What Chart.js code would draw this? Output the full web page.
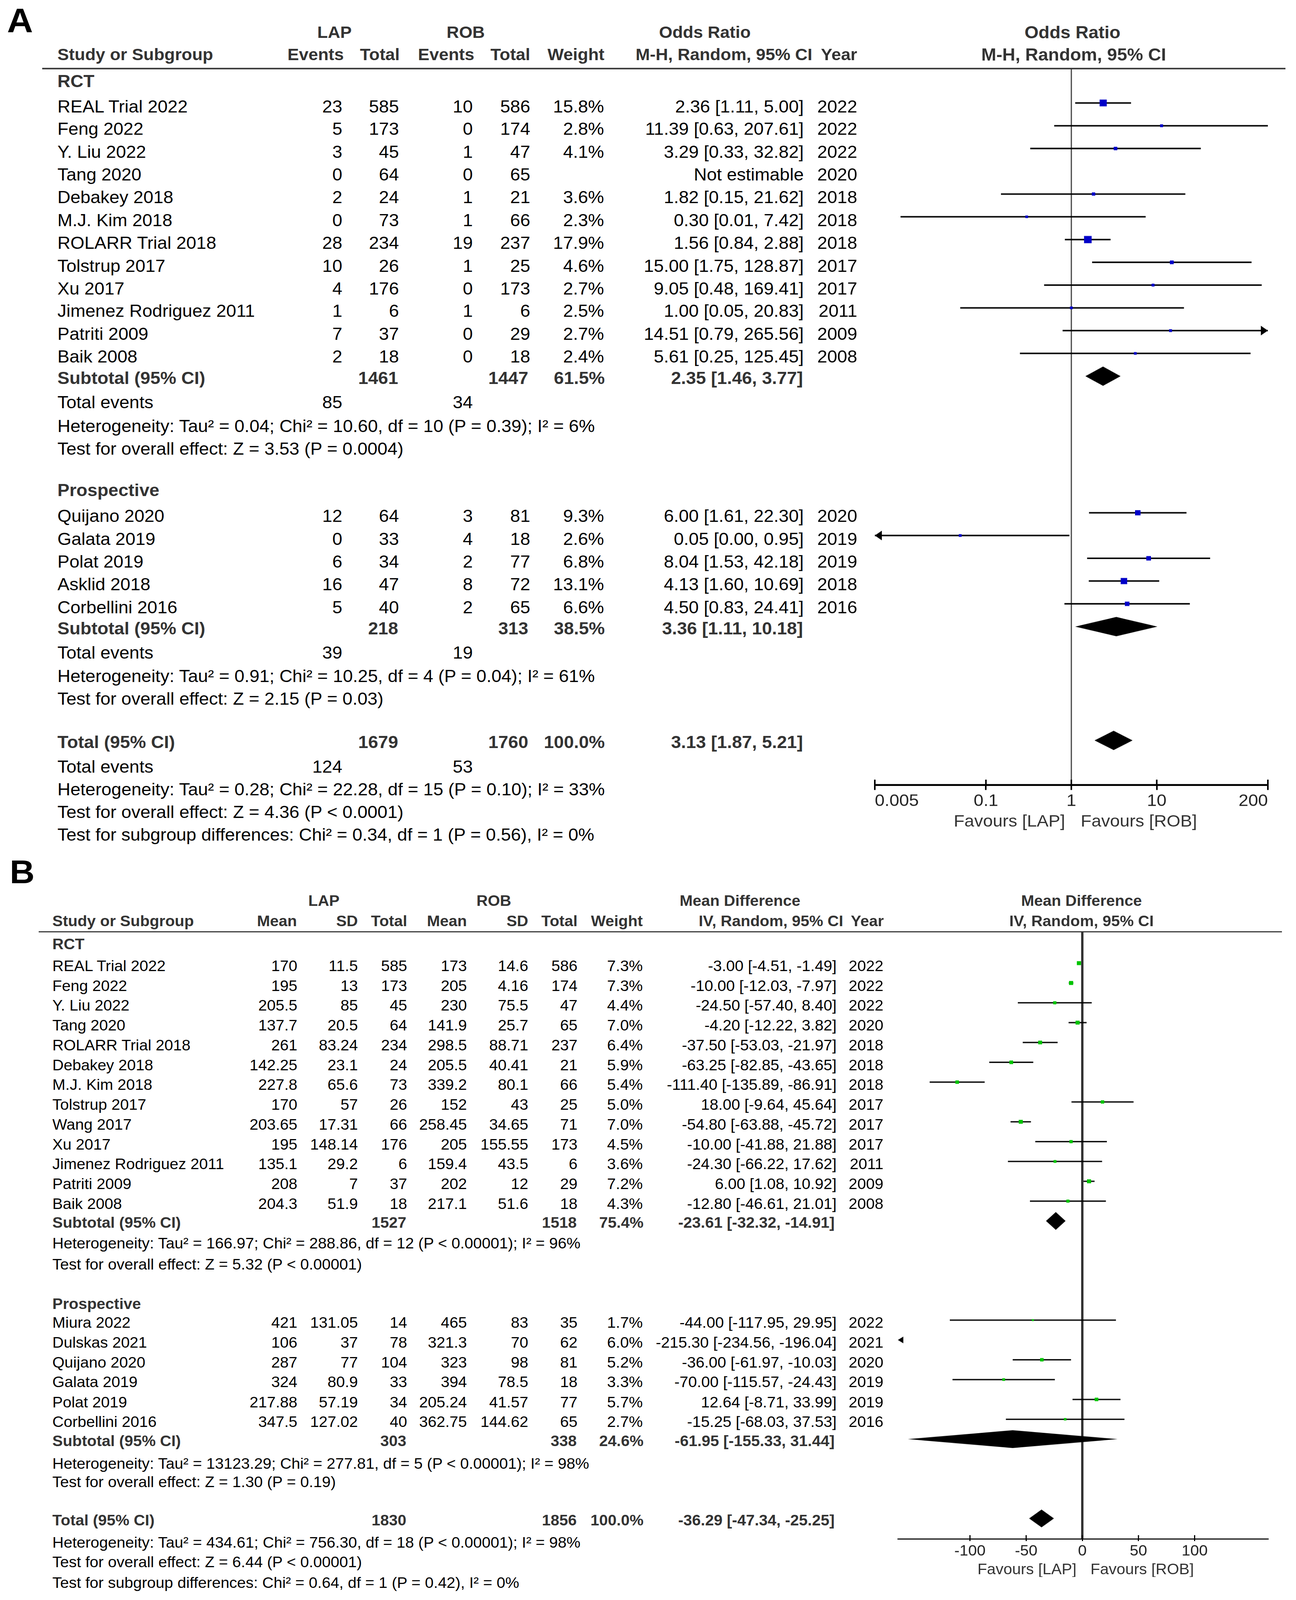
<!DOCTYPE html>
<html><head><meta charset="utf-8">
<script src="https://cdn.jsdelivr.net/npm/chart.js@4.4.0/dist/chart.umd.min.js"></script>
<style>
html,body{margin:0;padding:0;background:#fff;overflow:hidden;}
#page{position:relative;width:3317px;height:4316px;background:#fff;overflow:hidden;font-family:"Liberation Sans",Arial,sans-serif;transform-origin:0 0;}
.t{position:absolute;white-space:nowrap;line-height:1;color:#000;}
canvas{position:absolute;}
.hl{position:absolute;background:#333;}
</style></head><body><div id="page"></div>
<script>
// ================= Panel A : Odds Ratio =================
const A_STUDY = ["REAL Trial 2022","Feng 2022","Y. Liu 2022","Tang 2020","Debakey 2018","M.J. Kim 2018","ROLARR Trial 2018","Tolstrup 2017","Xu 2017","Jimenez Rodriguez 2011","Patriti 2009","Baik 2008","Quijano 2020","Galata 2019","Polat 2019","Asklid 2018","Corbellini 2016"];
const A_ROW = [0,1,2,3,4,5,6,7,8,9,10,11,18,19,20,21,22];
const A_LAP_EVENTS = [23,5,3,0,2,0,28,10,4,1,7,2,12,0,6,16,5];
const A_LAP_TOTAL = [585,173,45,64,24,73,234,26,176,6,37,18,64,33,34,47,40];
const A_ROB_EVENTS = [10,0,1,0,1,1,19,1,0,1,0,0,3,4,2,8,2];
const A_ROB_TOTAL = [586,174,47,65,21,66,237,25,173,6,29,18,81,18,77,72,65];
const A_WEIGHT = [15.8,2.8,4.1,null,3.6,2.3,17.9,4.6,2.7,2.5,2.7,2.4,9.3,2.6,6.8,13.1,6.6];
const A_OR = [2.36,11.39,3.29,null,1.82,0.30,1.56,15.00,9.05,1.00,14.51,5.61,6.00,0.05,8.04,4.13,4.50];
const A_LO = [1.11,0.63,0.33,null,0.15,0.01,0.84,1.75,0.48,0.05,0.79,0.25,1.61,0.00,1.53,1.60,0.83];
const A_HI = [5.00,207.61,32.82,null,21.62,7.42,2.88,128.87,169.41,20.83,265.56,125.45,22.30,0.95,42.18,10.69,24.41];
const A_YEAR = [2022,2022,2022,2020,2018,2018,2018,2017,2017,2011,2009,2008,2020,2019,2019,2018,2016];

const A_POOL_LABEL = ["Subtotal (95% CI)","Subtotal (95% CI)","Total (95% CI)"];
const A_POOL_ROW = [12,23,28];
const A_POOL_LAP_TOTAL = [1461,218,1679];
const A_POOL_ROB_TOTAL = [1447,313,1760];
const A_POOL_WEIGHT = [61.5,38.5,100.0];
const A_POOL_OR = [2.35,3.36,3.13];
const A_POOL_LO = [1.46,1.11,1.87];
const A_POOL_HI = [3.77,10.18,5.21];

const A_EVENTS_ROW = [13,24,29];
const A_EVENTS_LAP = [85,39,124];
const A_EVENTS_ROB = [34,19,53];

const A_GROUP_LABEL = ["RCT","Prospective"];
const A_GROUP_ROW = [-1.11,16.86];

const A_NOTE = [
 "Heterogeneity: Tau² = 0.04; Chi² = 10.60, df = 10 (P = 0.39); I² = 6%",
 "Test for overall effect: Z = 3.53 (P = 0.0004)",
 "Heterogeneity: Tau² = 0.91; Chi² = 10.25, df = 4 (P = 0.04); I² = 61%",
 "Test for overall effect: Z = 2.15 (P = 0.03)",
 "Heterogeneity: Tau² = 0.28; Chi² = 22.28, df = 15 (P = 0.10); I² = 33%",
 "Test for overall effect: Z = 4.36 (P < 0.0001)",
 "Test for subgroup differences: Chi² = 0.34, df = 1 (P = 0.56), I² = 0%"];
const A_NOTE_ROW = [14.04,15.05,25.03,26.03,30,31,32];

const A_TICKS = [0.005,0.1,1,10,200];
const A_TICK_LABELS = ["0.005","0.1","1","10","200"];

// ================= Panel B : Mean Difference =================
const B_STUDY = ["REAL Trial 2022","Feng 2022","Y. Liu 2022","Tang 2020","ROLARR Trial 2018","Debakey 2018","M.J. Kim 2018","Tolstrup 2017","Wang 2017","Xu 2017","Jimenez Rodriguez 2011","Patriti 2009","Baik 2008","Miura 2022","Dulskas 2021","Quijano 2020","Galata 2019","Polat 2019","Corbellini 2016"];
const B_ROW = [0,1,2,3,4,5,6,7,8,9,10,11,12,18,19,20,21,22,23];
const B_LAP_MEAN = [170,195,205.5,137.7,261,142.25,227.8,170,203.65,195,135.1,208,204.3,421,106,287,324,217.88,347.5];
const B_LAP_SD = [11.5,13,85,20.5,83.24,23.1,65.6,57,17.31,148.14,29.2,7,51.9,131.05,37,77,80.9,57.19,127.02];
const B_LAP_TOTAL = [585,173,45,64,234,24,73,26,66,176,6,37,18,14,78,104,33,34,40];
const B_ROB_MEAN = [173,205,230,141.9,298.5,205.5,339.2,152,258.45,205,159.4,202,217.1,465,321.3,323,394,205.24,362.75];
const B_ROB_SD = [14.6,4.16,75.5,25.7,88.71,40.41,80.1,43,34.65,155.55,43.5,12,51.6,83,70,98,78.5,41.57,144.62];
const B_ROB_TOTAL = [586,174,47,65,237,21,66,25,71,173,6,29,18,35,62,81,18,77,65];
const B_WEIGHT = [7.3,7.3,4.4,7.0,6.4,5.9,5.4,5.0,7.0,4.5,3.6,7.2,4.3,1.7,6.0,5.2,3.3,5.7,2.7];
const B_MD = [-3.00,-10.00,-24.50,-4.20,-37.50,-63.25,-111.40,18.00,-54.80,-10.00,-24.30,6.00,-12.80,-44.00,-215.30,-36.00,-70.00,12.64,-15.25];
const B_LO = [-4.51,-12.03,-57.40,-12.22,-53.03,-82.85,-135.89,-9.64,-63.88,-41.88,-66.22,1.08,-46.61,-117.95,-234.56,-61.97,-115.57,-8.71,-68.03];
const B_HI = [-1.49,-7.97,8.40,3.82,-21.97,-43.65,-86.91,45.64,-45.72,21.88,17.62,10.92,21.01,29.95,-196.04,-10.03,-24.43,33.99,37.53];
const B_YEAR = [2022,2022,2022,2020,2018,2018,2018,2017,2017,2017,2011,2009,2008,2022,2021,2020,2019,2019,2016];

const B_POOL_LABEL = ["Subtotal (95% CI)","Subtotal (95% CI)","Total (95% CI)"];
const B_POOL_ROW = [13,24,28];
const B_POOL_LAP_TOTAL = [1527,303,1830];
const B_POOL_ROB_TOTAL = [1518,338,1856];
const B_POOL_WEIGHT = [75.4,24.6,100.0];
const B_POOL_MD = [-23.61,-61.95,-36.29];
const B_POOL_LO = [-32.32,-155.33,-47.34];
const B_POOL_HI = [-14.91,31.44,-25.25];

const B_GROUP_LABEL = ["RCT","Prospective"];
const B_GROUP_ROW = [-1.1,17.05];

const B_NOTE = [
 "Heterogeneity: Tau² = 166.97; Chi² = 288.86, df = 12 (P < 0.00001); I² = 96%",
 "Test for overall effect: Z = 5.32 (P < 0.00001)",
 "Heterogeneity: Tau² = 13123.29; Chi² = 277.81, df = 5 (P < 0.00001); I² = 98%",
 "Test for overall effect: Z = 1.30 (P = 0.19)",
 "Heterogeneity: Tau² = 434.61; Chi² = 756.30, df = 18 (P < 0.00001); I² = 98%",
 "Test for overall effect: Z = 6.44 (P < 0.00001)",
 "Test for subgroup differences: Chi² = 0.64, df = 1 (P = 0.42), I² = 0%"];
const B_NOTE_ROW = [14,15.07,25.1,26.04,29.08,30.07,31.1];

const B_TICKS = [-100,-50,0,50,100];
const B_TICK_LABELS = ["-100","-50","0","50","100"];

// ================= rendering =================
const page = document.getElementById('page');
const PAGE_W = 3317, PAGE_H = 4316;
const sx = window.innerWidth / PAGE_W, sy = window.innerHeight / PAGE_H;
if (Math.abs(sx - 1) > 0.002 || Math.abs(sy - 1) > 0.002) page.style.transform = 'scale(' + sx + ',' + sy + ')';
const HEAD = '#333';
const FONT = '"Liberation Sans", Arial, sans-serif';

function txt(str, x, y, align, size, bold, color) {
  const d = document.createElement('div');
  d.className = 't';
  d.textContent = str;
  d.style.left = x + 'px';
  d.style.top = y + 'px';
  d.style.fontSize = size + 'px';
  if (bold) d.style.fontWeight = 'bold';
  d.style.color = color || '#000';
  const tx = align === 'right' ? '-100%' : (align === 'center' ? '-50%' : '0');
  d.style.transform = 'translate(' + tx + ',-50%)';
  page.appendChild(d);
}
function hline(x, y, w, h) {
  const d = document.createElement('div');
  d.className = 'hl';
  d.style.left = x + 'px'; d.style.top = y + 'px';
  d.style.width = w + 'px'; d.style.height = h + 'px';
  page.appendChild(d);
}
const f2 = v => v.toFixed(2);
const ci = (e, l, h) => f2(e) + ' [' + f2(l) + ', ' + f2(h) + ']';

function arrow(ctx, xt, py, dir, o) {
  ctx.beginPath();
  ctx.moveTo(xt, py);
  ctx.lineTo(xt - dir * o.arrowW, py - o.arrowH / 2);
  ctx.lineTo(xt - dir * o.arrowW, py + o.arrowH / 2);
  ctx.closePath();
  ctx.fill();
}

const forestPlugin = {
  id: 'forest',
  beforeDatasetsDraw(chart, args, o) {
    const ctx = chart.ctx, a = chart.chartArea, x = chart.scales.x, y = chart.scales.y;
    ctx.save();
    const xr = x.getPixelForValue(o.ref);
    ctx.strokeStyle = o.refColor; ctx.lineWidth = o.refWidth;
    ctx.beginPath(); ctx.moveTo(xr, a.top); ctx.lineTo(xr, a.bottom); ctx.stroke();
    ctx.strokeStyle = '#000'; ctx.fillStyle = '#000'; ctx.lineWidth = o.ciWidth;
    for (let i = 0; i < o.lo.length; i++) {
      const lo = o.lo[i], hi = o.hi[i];
      if (lo == null || hi == null) continue;
      const py = y.getPixelForValue(o.rows[i]);
      if (hi < x.min) { arrow(ctx, a.left, py, -1, o); continue; }
      if (lo > x.max) { arrow(ctx, a.right, py, 1, o); continue; }
      const leftOut = lo < x.min, rightOut = hi > x.max * o.tol;
      const xl = leftOut ? a.left : Math.max(a.left, x.getPixelForValue(lo));
      const xh = Math.min(a.right, x.getPixelForValue(hi));
      ctx.beginPath(); ctx.moveTo(xl, py); ctx.lineTo(xh, py); ctx.stroke();
      if (leftOut) arrow(ctx, a.left, py, -1, o);
      if (rightOut) arrow(ctx, a.right, py, 1, o);
    }
    ctx.restore();
  },
  afterDatasetsDraw(chart, args, o) {
    const ctx = chart.ctx, x = chart.scales.x, y = chart.scales.y;
    ctx.save();
    ctx.fillStyle = '#000';
    for (let i = 0; i < o.poolEst.length; i++) {
      const py = y.getPixelForValue(o.poolRows[i]);
      const xl = x.getPixelForValue(o.poolLo[i]);
      const xc = x.getPixelForValue(o.poolEst[i]);
      const xh = x.getPixelForValue(o.poolHi[i]);
      ctx.beginPath();
      ctx.moveTo(xl, py); ctx.lineTo(xc, py - o.diamondH); ctx.lineTo(xh, py); ctx.lineTo(xc, py + o.diamondH);
      ctx.closePath(); ctx.fill();
    }
    ctx.restore();
  },
  afterDraw(chart, args, o) {
    const ctx = chart.ctx, a = chart.chartArea, x = chart.scales.x;
    ctx.save();
    ctx.strokeStyle = '#000'; ctx.lineWidth = o.tickWidth;
    x.ticks.forEach(t => {
      const px = x.getPixelForValue(t.value);
      ctx.beginPath(); ctx.moveTo(px, a.bottom); ctx.lineTo(px, a.bottom - o.tickUp); ctx.stroke();
    });
    ctx.restore();
  }
};

function buildChart(c) {
  const cv = document.createElement('canvas');
  cv.width = c.box.w; cv.height = c.box.h;
  cv.style.left = c.box.x + 'px'; cv.style.top = c.box.y + 'px';
  cv.style.width = c.box.w + 'px'; cv.style.height = c.box.h + 'px';
  page.appendChild(cv);
  const pts = [], rad = [];
  c.est.forEach((v, i) => {
    if (v == null) return;
    pts.push({ x: v, y: c.rows[i] });
    rad.push(c.sizeK * Math.sqrt(c.weight[i]));
  });
  return new Chart(cv, {
    type: 'scatter',
    data: { datasets: [{ data: pts, pointStyle: 'rect', pointRadius: rad, pointHoverRadius: rad,
      backgroundColor: c.markColor, borderWidth: 0 }] },
    options: {
      responsive: false, animation: false, devicePixelRatio: 1, events: [],
      layout: { padding: c.padding },
      plugins: {
        legend: { display: false }, tooltip: { enabled: false },
        forest: {
          ref: c.ref, refColor: c.refColor, refWidth: c.refWidth, ciWidth: c.ciWidth,
          lo: c.lo, hi: c.hi, rows: c.rows, tol: 1.05, arrowW: c.arrowW, arrowH: c.arrowH,
          poolEst: c.poolEst, poolLo: c.poolLo, poolHi: c.poolHi, poolRows: c.poolRows,
          diamondH: c.diamondH, tickUp: c.tickUp, tickWidth: c.tickWidth
        }
      },
      scales: {
        x: {
          type: c.xType, min: c.xMin, max: c.xMax,
          afterBuildTicks: s => { s.ticks = c.ticks.map(v => ({ value: v })); },
          afterFit: s => { s.height = c.axisH; },
          ticks: { autoSkip: false, maxRotation: 0, minRotation: 0, align: c.tickAlign, padding: c.tickPad,
            color: '#222', font: { family: FONT, size: c.tickFont },
            callback: (v, i) => c.tickLabels[i] },
          grid: { drawOnChartArea: false, drawTicks: true, tickLength: c.tickLen, color: '#000', lineWidth: c.tickWidth },
          border: { display: true, color: '#000', width: c.axisWidth }
        },
        y: { type: 'linear', display: false, reverse: true, min: c.yMin, max: c.yMax }
      }
    },
    plugins: [forestPlugin]
  });
}

// ---------- Panel A ----------
const boxA = { x: 2150, y: 150, w: 1167, h: 2043 };
const chartA = buildChart({
  box: boxA, padding: { left: 89, right: 72, top: 35, bottom: 0 },
  xType: 'logarithmic', xMin: 0.005, xMax: 200, yMin: -1.51, yMax: 29.95,
  ticks: A_TICKS, tickLabels: A_TICK_LABELS, tickAlign: 'inner', tickPad: 4, tickFont: 45,
  tickLen: 14, tickUp: 14, tickWidth: 4, axisWidth: 5, axisH: 76,
  est: A_OR, lo: A_LO, hi: A_HI, rows: A_ROW, weight: A_WEIGHT, sizeK: 3.25, markColor: '#0000c8',
  ref: 1, refColor: '#444', refWidth: 3, ciWidth: 4, arrowW: 18, arrowH: 26,
  poolEst: A_POOL_OR, poolLo: A_POOL_LO, poolHi: A_POOL_HI, poolRows: A_POOL_ROW, diamondH: 26
});

(function tableA() {
  const Y = v => boxA.y + chartA.scales.y.getPixelForValue(v);
  const S = 46, H = 44;
  txt('A', 18, 54, 'left', 92, true, '#000');
  txt('LAP', 856, Y(-3.11), 'center', H, true, HEAD);
  txt('ROB', 1192, Y(-3.11), 'center', H, true, HEAD);
  txt('Odds Ratio', 1804, Y(-3.11), 'center', H, true, HEAD);
  txt('Study or Subgroup', 147, Y(-2.13), 'left', H, true, HEAD);
  txt('Events', 880, Y(-2.13), 'right', H, true, HEAD);
  txt('Total', 1023, Y(-2.13), 'right', H, true, HEAD);
  txt('Events', 1214, Y(-2.13), 'right', H, true, HEAD);
  txt('Total', 1357, Y(-2.13), 'right', H, true, HEAD);
  txt('Weight', 1547, Y(-2.13), 'right', H, true, HEAD);
  txt('M-H, Random, 95% CI', 2079, Y(-2.13), 'right', H, true, HEAD);
  txt('Year', 2101, Y(-2.13), 'left', H, true, HEAD);
  txt('Odds Ratio', 2745, Y(-3.11), 'center', 46, true, HEAD);
  txt('M-H, Random, 95% CI', 2748, Y(-2.13), 'center', 46, true, HEAD);
  hline(108, 183, 3182, 4);
  A_GROUP_LABEL.forEach((g, i) => txt(g, 147, Y(A_GROUP_ROW[i]) + 9, 'left', S, true, HEAD));
  A_STUDY.forEach((s, i) => {
    const y = Y(A_ROW[i]) + 9;
    txt(s, 147, y, 'left', S);
    txt(String(A_LAP_EVENTS[i]), 876, y, 'right', S);
    txt(String(A_LAP_TOTAL[i]), 1021, y, 'right', S);
    txt(String(A_ROB_EVENTS[i]), 1210, y, 'right', S);
    txt(String(A_ROB_TOTAL[i]), 1357, y, 'right', S);
    if (A_WEIGHT[i] != null) txt(A_WEIGHT[i].toFixed(1) + '%', 1546, y, 'right', S);
    txt(A_OR[i] == null ? 'Not estimable' : ci(A_OR[i], A_LO[i], A_HI[i]), 2057, y, 'right', S);
    txt(String(A_YEAR[i]), 2194, y, 'right', S);
  });
  A_POOL_LABEL.forEach((p, i) => {
    const y = Y(A_POOL_ROW[i]) + 5;
    txt(p, 147, y, 'left', S, true, HEAD);
    txt(String(A_POOL_LAP_TOTAL[i]), 1019, y, 'right', S, true, HEAD);
    txt(String(A_POOL_ROB_TOTAL[i]), 1352, y, 'right', S, true, HEAD);
    txt(A_POOL_WEIGHT[i].toFixed(1) + '%', 1548, y, 'right', S, true, HEAD);
    txt(ci(A_POOL_OR[i], A_POOL_LO[i], A_POOL_HI[i]), 2055, y, 'right', S, true, HEAD);
  });
  A_EVENTS_ROW.forEach((r, i) => {
    const y = Y(r) + 9;
    txt('Total events', 147, y, 'left', S);
    txt(String(A_EVENTS_LAP[i]), 876, y, 'right', S);
    txt(String(A_EVENTS_ROB[i]), 1210, y, 'right', S);
  });
  A_NOTE.forEach((n, i) => txt(n, 147, Y(A_NOTE_ROW[i]) + 9, 'left', S));
  const xr = boxA.x + chartA.scales.x.getPixelForValue(1);
  const yb = boxA.y + chartA.chartArea.bottom;
  txt('Favours [LAP]', xr - 16, yb + 97, 'right', 45, false, HEAD);
  txt('Favours [ROB]', xr + 24, yb + 97, 'left', 45, false, HEAD);
})();

// ---------- Panel B ----------
const boxB = { x: 2250, y: 2480, w: 1067, h: 1733 };
const chartB = buildChart({
  box: boxB, padding: { left: 48, right: 72, top: 33, bottom: 0 },
  xType: 'linear', xMin: -164.2, xMax: 165.2, yMin: -1.59, yMax: 29.03,
  ticks: B_TICKS, tickLabels: B_TICK_LABELS, tickAlign: 'center', tickPad: 4, tickFont: 40,
  tickLen: 6, tickUp: 10, tickWidth: 3, axisWidth: 3, axisH: 62,
  est: B_MD, lo: B_LO, hi: B_HI, rows: B_ROW, weight: B_WEIGHT, sizeK: 2.8, markColor: '#00c400',
  ref: 0, refColor: '#333', refWidth: 6, ciWidth: 3.5, arrowW: 14, arrowH: 18,
  poolEst: B_POOL_MD, poolLo: B_POOL_LO, poolHi: B_POOL_HI, poolRows: B_POOL_ROW, diamondH: 24
});

(function tableB() {
  const Y = v => boxB.y + chartB.scales.y.getPixelForValue(v);
  const S = 40, H = 40;
  txt('B', 25, 2352, 'left', 88, true, '#000');
  txt('LAP', 829, Y(-3.14), 'center', H, true, HEAD);
  txt('ROB', 1264, Y(-3.14), 'center', H, true, HEAD);
  txt('Mean Difference', 1894, Y(-3.14), 'center', H, true, HEAD);
  txt('Study or Subgroup', 134, Y(-2.13), 'left', H, true, HEAD);
  txt('Mean', 760, Y(-2.13), 'right', H, true, HEAD);
  txt('SD', 916, Y(-2.13), 'right', H, true, HEAD);
  txt('Total', 1042, Y(-2.13), 'right', H, true, HEAD);
  txt('Mean', 1195, Y(-2.13), 'right', H, true, HEAD);
  txt('SD', 1352, Y(-2.13), 'right', H, true, HEAD);
  txt('Total', 1478, Y(-2.13), 'right', H, true, HEAD);
  txt('Weight', 1645, Y(-2.13), 'right', H, true, HEAD);
  txt('IV, Random, 95% CI', 2158, Y(-2.13), 'right', H, true, HEAD);
  txt('Year', 2262, Y(-2.13), 'right', H, true, HEAD);
  txt('Mean Difference', 2768, Y(-3.14), 'center', 40, true, HEAD);
  txt('IV, Random, 95% CI', 2768, Y(-2.13), 'center', 40, true, HEAD);
  hline(99, 2512, 3182, 3);
  B_GROUP_LABEL.forEach((g, i) => txt(g, 134, Y(B_GROUP_ROW[i]) + 7, 'left', S, true, HEAD));
  B_STUDY.forEach((s, i) => {
    const y = Y(B_ROW[i]) + 7;
    txt(s, 134, y, 'left', S);
    txt(String(B_LAP_MEAN[i]), 761, y, 'right', S);
    txt(String(B_LAP_SD[i]), 916, y, 'right', S);
    txt(String(B_LAP_TOTAL[i]), 1042, y, 'right', S);
    txt(String(B_ROB_MEAN[i]), 1195, y, 'right', S);
    txt(String(B_ROB_SD[i]), 1352, y, 'right', S);
    txt(String(B_ROB_TOTAL[i]), 1478, y, 'right', S);
    txt(B_WEIGHT[i].toFixed(1) + '%', 1645, y, 'right', S);
    txt(ci(B_MD[i], B_LO[i], B_HI[i]), 2141, y, 'right', S);
    txt(String(B_YEAR[i]), 2261, y, 'right', S);
  });
  B_POOL_LABEL.forEach((p, i) => {
    const y = Y(B_POOL_ROW[i]) + 5;
    txt(p, 134, y, 'left', S, true, HEAD);
    txt(String(B_POOL_LAP_TOTAL[i]), 1040, y, 'right', S, true, HEAD);
    txt(String(B_POOL_ROB_TOTAL[i]), 1476, y, 'right', S, true, HEAD);
    txt(B_POOL_WEIGHT[i].toFixed(1) + '%', 1647, y, 'right', S, true, HEAD);
    txt(ci(B_POOL_MD[i], B_POOL_LO[i], B_POOL_HI[i]), 2136, y, 'right', S, true, HEAD);
  });
  B_NOTE.forEach((n, i) => txt(n, 134, Y(B_NOTE_ROW[i]) + 7, 'left', S));
  const xr = boxB.x + chartB.scales.x.getPixelForValue(0);
  const yb = boxB.y + chartB.chartArea.bottom;
  txt('Favours [LAP]', xr - 15, yb + 81, 'right', 40, false, HEAD);
  txt('Favours [ROB]', xr + 21, yb + 81, 'left', 40, false, HEAD);
})();
</script></body></html>
